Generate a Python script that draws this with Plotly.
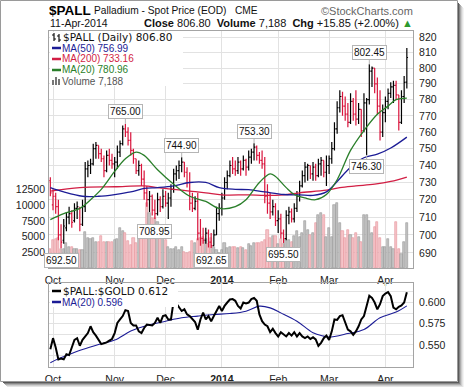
import math
import plotly.graph_objects as go

W, H = 464, 387

# ---------------- data (trading-day index: -1 = 30-Sep-2013 ... 132 = 11-Apr-2014) ----------------
month_idx = [0, 23, 42, 63, 84, 103, 124]
month_lbl = ["Oct", "Nov", "Dec", "<b>2014</b>", "Feb", "Mar", "Apr"]

opens = [731, 717, 722, 716, 700, 697, 704, 710, 712, 708, 715, 715, 706, 716, 738, 740, 741, 750, 752, 747,
         744, 737, 746, 743, 741, 742, 748, 753, 762, 760, 755, 749, 744, 737, 740, 732, 724, 720, 722, 714,
         712, 720, 716, 722, 718, 721, 726, 735, 737, 740, 742, 736, 730, 718, 715, 719, 701, 698, 697, 701,
         696, 694, 700, 712, 715, 721, 730, 734, 740, 738, 737, 742, 738, 743, 739, 745, 748, 751, 746, 743,
         741, 722, 718, 713, 716, 708, 709, 701, 698, 711, 713, 709, 715, 722, 728, 734, 739, 740, 735, 739,
         734, 741, 743, 736, 740, 744, 750, 762, 775, 782, 776, 771, 766, 779, 771, 768, 774, 761, 778, 780,
         798, 800, 790, 776, 760, 772, 779, 784, 788, 789, 783, 766, 782, 791]
highs = [733, 726, 724, 720, 706, 709, 713, 716, 714, 718, 719, 716, 720, 742, 743, 744, 753, 754, 752, 750,
         746, 749, 750, 747, 745, 752, 755, 764, 765, 763, 760, 750, 744, 743, 741, 737, 728, 725, 723, 720,
         724, 722, 726, 725, 724, 729, 738, 740, 743, 744.9, 742, 739, 736, 724, 722, 724, 709, 704, 704, 703,
         701, 703, 716, 718, 724, 733, 737, 743, 745, 743, 745, 743, 746, 744, 749, 750, 753.3, 752, 748, 749,
         745, 729, 724, 720, 718, 714, 712, 703, 714, 716, 715, 718, 725, 731, 737, 742, 741, 740, 742, 741,
         744, 745, 743, 746, 746, 754, 766, 779, 786, 785, 782, 778, 784, 781, 786, 778, 774, 784, 781, 802.45,
         801, 800, 794, 786, 777, 782, 787, 791, 792, 792, 783, 786, 795, 813]
lows = [722, 714, 712, 697, 692.5, 695, 702, 706, 704, 707, 709, 702, 705, 713, 733, 735, 740, 744, 744, 742,
        733, 736, 740, 738, 733, 738, 745, 752, 757, 752, 746, 741, 735, 734, 728, 720, 716, 713, 711, 708.95,
        711, 713, 715, 716, 709, 716, 724, 731, 732, 736, 733, 727, 714, 713, 714, 697, 694, 695, 695, 693,
        692.65, 694, 700, 708, 711, 720, 726, 733, 735, 734, 735, 734, 737, 734, 737, 741, 743, 743, 741, 738,
        718, 712, 709, 711, 705, 701, 698, 695.5, 697, 706, 707, 707, 713, 719, 727, 730, 731, 732, 731, 731,
        733, 734, 733, 728, 735, 741, 749, 759, 772, 770, 767, 763, 765, 767, 764, 765, 757, 760, 746.3, 777,
        788, 784, 771, 755, 757, 766, 774, 781, 778, 780, 761, 765, 778, 787]
closes = [724, 722, 716, 700, 696, 705, 710, 712, 707, 715, 716, 706, 716, 738, 740, 741, 750, 752, 747, 744,
          737, 746, 743, 741, 742, 748, 753, 762, 760, 755, 749, 744, 737, 740, 732, 724, 720, 722, 714, 712,
          720, 716, 722, 718, 721, 726, 735, 737, 740, 742, 736, 730, 718, 715, 719, 701, 698, 697, 701, 696,
          694, 700, 712, 715, 721, 730, 734, 740, 738, 737, 742, 738, 743, 739, 745, 748, 751, 746, 743, 741,
          722, 718, 713, 716, 708, 709, 701, 698, 711, 713, 709, 715, 722, 728, 734, 739, 740, 735, 739, 734,
          741, 743, 736, 740, 744, 750, 762, 775, 782, 776, 771, 766, 779, 771, 768, 774, 761, 778, 780, 798,
          800, 790, 776, 760, 772, 779, 784, 788, 789, 783, 766, 782, 790.95, 806.80]
volume = [3000, 4400, 4600, 4700, 3100, 3000, 3900, 3400, 3300, 3100, 3000, 2900, 2800, 5700, 4700, 4600, 4800,
          4200, 4200, 5100, 4200, 4100, 4200, 4100, 4500, 4600, 6300, 5900, 5600, 4300, 3700, 4800, 4000, 6300,
          5600, 4700, 10400, 8800, 7900, 7900, 7300, 5600, 5000, 4500, 3400, 3000, 3100, 3400, 2900, 3400, 2600,
          2400, 2600, 4300, 4000, 4600, 4800, 4900, 4600, 3800, 4800, 3400, 2900, 2400, 2800, 3900, 3200, 3400,
          3300, 3300, 3200, 3400, 3200, 2900, 3800, 3500, 3900, 4000, 4000, 4100, 4400, 6000, 4700, 5100, 5100,
          3800, 4600, 3800, 4600, 4500, 4100, 5100, 5900, 5000, 5600, 7500, 6100, 5300, 5600, 7100, 8500, 8700,
          8500, 5000, 6400, 5000, 10100, 10300, 7200, 5900, 4800, 6100, 5300, 4800, 5500, 5000, 4200, 8500, 8500,
          7500, 5600, 6600, 7300, 4700, 3400, 3400, 4600, 3400, 3000, 7300, 3000, 2200, 4100, 7188]

ma20_idx = [-1, 4, 10, 14, 18, 23, 27, 31, 34, 39, 45, 51, 57, 62, 68, 72, 77, 81, 83, 87, 90, 94, 98, 102, 106,
            111, 116, 121, 125, 128, 132]
ma20_val = [708.6, 712, 715, 720, 726, 736.5, 744, 748, 746, 737.5, 729, 722, 719, 715, 716, 720, 730, 735, 733.5,
            727, 723, 721, 720, 723, 731.6, 749, 761, 771, 776, 780, 780.96]
ma50_idx = [-1, 4, 11, 17, 23, 29, 34, 39, 45, 51, 57, 62, 68, 73, 79, 86, 92, 97, 102, 106, 111, 116, 121, 126, 132]
ma50_val = [727, 724.5, 722, 722, 723, 724.5, 726.5, 727, 728, 730, 730, 727, 726, 725.8, 724.5, 723, 722.8, 722.5,
            724.5, 730.6, 739, 744.6, 746.7, 750.4, 756.99]
ma200_idx = [-1, 10, 23, 34, 39, 45, 51, 57, 63, 73, 79, 86, 92, 102, 107, 113, 120, 126, 132]
ma200_val = [725, 727, 727.5, 728, 727, 726, 725, 724, 722.8, 722.8, 722.5, 722.8, 724, 725.5, 727, 728, 729,
             730.6, 733.16]

ratio = [0.545, 0.558, 0.547, 0.533, 0.534, 0.533, 0.539, 0.538, 0.547, 0.556, 0.558, 0.549, 0.556, 0.560, 0.564,
         0.572, 0.565, 0.561, 0.556, 0.551, 0.552, 0.553, 0.555, 0.557, 0.564, 0.576, 0.580, 0.584, 0.591, 0.590,
         0.576, 0.573, 0.573, 0.566, 0.564, 0.570, 0.574, 0.5735, 0.573, 0.576, 0.582, 0.576, 0.584, 0.585, 0.580,
         0.580, 0.602, 0.599, 0.594, 0.590, 0.592, 0.586, 0.584, 0.580, 0.577, 0.568, 0.580, 0.588, 0.580, 0.584,
         0.578, 0.584, 0.590, 0.596, 0.590, 0.596, 0.600, 0.6035, 0.604, 0.602, 0.596, 0.593, 0.600, 0.599, 0.600,
         0.604, 0.6055, 0.602, 0.586, 0.578, 0.574, 0.572, 0.565, 0.569, 0.564, 0.560, 0.565, 0.562, 0.560, 0.564,
         0.561, 0.565, 0.560, 0.564, 0.560, 0.558, 0.560, 0.557, 0.559, 0.5565, 0.549, 0.5525, 0.558, 0.561, 0.556,
         0.566, 0.580, 0.5795, 0.584, 0.585, 0.576, 0.568, 0.566, 0.562, 0.566, 0.572, 0.580, 0.584, 0.596, 0.608,
         0.6055, 0.600, 0.592, 0.598, 0.6075, 0.6106, 0.6122, 0.6075, 0.594, 0.592, 0.595, 0.5965, 0.600, 0.612]
rma_idx = [-1, 2, 6, 11, 17, 23, 29, 35, 42, 48, 54, 60, 66, 72, 77, 81, 85, 91, 97, 101, 103, 110, 116, 122, 128, 132]
rma_val = [0.529, 0.5336, 0.5387, 0.5446, 0.5505, 0.5557, 0.5663, 0.5729, 0.578, 0.582, 0.584, 0.5858, 0.587,
           0.5898, 0.5957, 0.5937, 0.5878, 0.578, 0.5643, 0.5604, 0.5592, 0.5634, 0.5682, 0.582, 0.5887, 0.596]

label_idx = [27, 48, 75, 118, 3, 38, 59, 86, 117]
label_val = [765.00, 744.90, 753.30, 802.45, 692.50, 708.95, 692.65, 695.50, 746.30]
label_side = ["above", "above", "above", "above", "below", "below", "below", "below", "below"]

price_ticks = list(range(690, 830, 10))
vol_ticks = [2500, 5000, 7500, 10000, 12500]
ratio_ticks = [0.5375, 0.55, 0.5625, 0.575, 0.5875, 0.6, 0.6125]
ratio_tick_lbl = ["", "0.550", "", "0.575", "", "0.600", ""]

# ---------------- styling ----------------
SANS = "Liberation Sans, Arial, Helvetica, sans-serif"
WIDE = "DejaVu Sans, Verdana, sans-serif"
GRID = "#e2e2e2"
FRAME = "#a4a4a4"
RED = "#d9143c"
NAVY = "#1c1c96"
GREEN = "#2a7f2a"
MA200C = "#d21e44"


def fx(px):
    return px / W


def fy(py):
    return 1 - py / H


days = list(range(-1, 133))
n = len(days)
up = []
for k in range(n):
    ref = closes[k - 1] if k > 0 else opens[0]
    up.append(closes[k] >= ref)

fig = go.Figure()

# volume (base axis y, left)
fig.add_trace(go.Bar(
    x=days, y=volume, xaxis="x", yaxis="y", width=0.8,
    marker=dict(color=["#c2c2c2" if u else "#f5c4c8" for u in up],
                line=dict(color=["#969696" if u else "#e6929a" for u in up], width=0.6)),
    hoverinfo="skip"))

# moving averages on price
for ix, vals, col in [(ma200_idx, ma200_val, MA200C), (ma50_idx, ma50_val, NAVY), (ma20_idx, ma20_val, GREEN)]:
    fig.add_trace(go.Scatter(x=ix, y=vals, mode="lines", xaxis="x", yaxis="y2",
                             line=dict(color=col, width=1.3, shape="spline"), hoverinfo="skip"))

# price bars (black = up close, red = down close)
for flag, col in [(True, "#000000"), (False, RED)]:
    ks = [k for k in range(n) if up[k] == flag]
    fig.add_trace(go.Ohlc(
        x=[days[k] for k in ks], open=[opens[k] for k in ks], high=[highs[k] for k in ks],
        low=[lows[k] for k in ks], close=[closes[k] for k in ks], xaxis="x", yaxis="y2",
        increasing=dict(line=dict(color=col, width=1.2)), decreasing=dict(line=dict(color=col, width=1.2)),
        tickwidth=0.45, hoverinfo="skip"))

# ratio panel
fig.add_trace(go.Scatter(x=rma_idx, y=rma_val, mode="lines", xaxis="x2", yaxis="y3",
                         line=dict(color=NAVY, width=1.1, shape="spline"), hoverinfo="skip"))
fig.add_trace(go.Scatter(x=days, y=ratio, mode="lines", xaxis="x2", yaxis="y3",
                         line=dict(color="#000000", width=2), hoverinfo="skip"))

xr = [-1.5, 134.3]
tickfont = dict(family=SANS, size=10.5, color="#222")
xcommon = dict(range=xr, tickvals=month_idx, ticktext=month_lbl, showgrid=True, gridcolor=GRID, gridwidth=1,
               zeroline=False, showline=True, linecolor=FRAME, mirror=True, ticks="", tickfont=tickfont,
               ticklabelstandoff=2, fixedrange=True)

fig.update_layout(
    width=W, height=H, margin=dict(l=0, r=0, t=0, b=0, autoexpand=False),
    paper_bgcolor="white", plot_bgcolor="white", showlegend=False, bargap=0,
    xaxis=dict(domain=[fx(49), fx(413)], anchor="y", rangeslider=dict(visible=False), **xcommon),
    yaxis=dict(domain=[fy(268), fy(31)], anchor="x", side="left", range=[0, 37700], tickvals=vol_ticks,
               ticktext=[str(v) for v in vol_ticks],
               showgrid=False, zeroline=False, showline=False, ticks="", tickfont=tickfont,
               ticklabelstandoff=3, fixedrange=True),
    yaxis2=dict(overlaying="y", anchor="x", side="right", type="log",
                range=[math.log10(681.7), math.log10(824.1)], tickvals=price_ticks,
                ticktext=[str(t) for t in price_ticks], showgrid=True, gridcolor=GRID, zeroline=False,
                showline=True, linecolor=FRAME, mirror=True, ticks="", tickfont=tickfont,
                ticklabelstandoff=3, fixedrange=True),
    xaxis2=dict(domain=[fx(49), fx(413)], anchor="y3", rangeslider=dict(visible=False), **xcommon),
    yaxis3=dict(domain=[fy(367), fy(283)], anchor="x2", side="right", range=[0.524, 0.623],
                tickvals=ratio_ticks, ticktext=ratio_tick_lbl, showgrid=True, gridcolor=GRID, zeroline=False,
                showline=True, linecolor=FRAME, mirror=True, ticks="", tickfont=tickfont,
                ticklabelstandoff=3, fixedrange=True),
)

ann = []


def txt(x, y, s, size=11, color="#111", anchor="left", family=SANS):
    ann.append(dict(xref="paper", yref="paper", x=fx(x), y=fy(y), text=s, showarrow=False,
                    xanchor=anchor, yanchor="middle", font=dict(family=family, size=size, color=color)))


# header
txt(47, 10.5, "<b>$PALL</b>", size=13.5, color="#000")
txt(92, 11, "Palladium - Spot Price (EOD)", size=10.2)
txt(233, 11, "CME", size=10.2)
txt(415, 11, "©StockCharts.com", size=11, color="#666", anchor="right")
txt(48, 23, "11-Apr-2014", size=10.5)
chg = closes[-1] - closes[-2]
pct = chg / closes[-2] * 100
txt(415, 23, f"<b>Close</b> {closes[-1]:.2f}  <b>Volume</b> {volume[-1]:,}  <b>Chg</b> {chg:+.2f} ({pct:+.2f}%) "
             f"<span style='color:#2e9a2e'>▲</span>", size=11, anchor="right")

# main legend
shapes = [
    dict(type="rect", xref="paper", yref="paper", x0=fx(50), x1=fx(183), y0=fy(86), y1=fy(32),
         fillcolor="white", line=dict(width=0), layer="above"),
    dict(type="rect", xref="paper", yref="paper", x0=fx(50), x1=fx(178), y0=fy(307), y1=fy(284),
         fillcolor="white", line=dict(width=0), layer="above"),
]
txt(61, 37, f"$PALL (Daily) {closes[-1]:.2f}", size=10.5, color="#111", family=WIDE)
txt(60, 48, f"MA(50) {ma50_val[-1]:.2f}", size=10, color=NAVY)
txt(60, 59, f"MA(200) {ma200_val[-1]:.2f}", size=10, color=MA200C)
txt(60, 70, f"MA(20) {ma20_val[-1]:.2f}", size=10, color=GREEN)
txt(60, 81, f"Volume {volume[-1]:,}", size=10, color="#555")
for yy, col in [(48, NAVY), (59, MA200C), (70, GREEN)]:
    shapes.append(dict(type="line", xref="paper", yref="paper", x0=fx(52), x1=fx(61), y0=fy(yy), y1=fy(yy),
                       line=dict(color=col, width=2.5), layer="above"))
# OHLC icon
for cx, t0, t1 in [(54, 33, 41), (59, 34, 42)]:
    shapes.append(dict(type="line", xref="paper", yref="paper", x0=fx(cx), x1=fx(cx), y0=fy(t1), y1=fy(t0),
                       line=dict(color="#111", width=1.2), layer="above"))
    shapes.append(dict(type="line", xref="paper", yref="paper", x0=fx(cx - 2), x1=fx(cx), y0=fy(t0 + 2),
                       y1=fy(t0 + 2), line=dict(color="#111", width=1.2), layer="above"))
    shapes.append(dict(type="line", xref="paper", yref="paper", x0=fx(cx), x1=fx(cx + 2), y0=fy(t1 - 2),
                       y1=fy(t1 - 2), line=dict(color="#111", width=1.2), layer="above"))
# volume icon
for bx, bh in [(52, 5), (55, 8), (58, 6)]:
    shapes.append(dict(type="rect", xref="paper", yref="paper", x0=fx(bx), x1=fx(bx + 2), y0=fy(85),
                       y1=fy(85 - bh), fillcolor="#777", line=dict(width=0), layer="above"))

# ratio legend
txt(61, 291, f"$PALL:$GOLD {ratio[-1]:.3f}", size=10.5, color="#111", family=WIDE)
txt(60, 302, f"MA(20) {rma_val[-1]:.3f}", size=10, color=NAVY)
for yy, col in [(291, "#000"), (302, NAVY)]:
    shapes.append(dict(type="line", xref="paper", yref="paper", x0=fx(52), x1=fx(61), y0=fy(yy), y1=fy(yy),
                       line=dict(color=col, width=2.5), layer="above"))

# price labels
for i, v, side in zip(label_idx, label_val, label_side):
    ann.append(dict(xref="x", yref="y2", x=i, y=math.log10(v), text=f"{v:.2f}", showarrow=True,
                    arrowhead=0, arrowwidth=1, arrowcolor="#b5b5b5", ax=0, ay=-12 if side == "above" else 12,
                    bgcolor="white", bordercolor="#b5b5b5", borderwidth=1, borderpad=1,
                    font=dict(family=SANS, size=10, color="#111")))

# outer frame and drop shadow
shapes.append(dict(type="rect", xref="paper", yref="paper", x0=fx(0.5), x1=fx(457.5), y0=fy(381.5), y1=fy(0.5),
                   line=dict(color="#9a9a9a", width=1), layer="above"))
shade = ["#5a5a5a", "#868686", "#adadad", "#cdcdcd", "#e4e4e4", "#f3f3f3"]
for k, c in enumerate(shade):
    shapes.append(dict(type="line", xref="paper", yref="paper", x0=fx(458.5 + k), x1=fx(458.5 + k),
                       y0=fy(3 + k), y1=fy(387), line=dict(color=c, width=1), layer="above"))
    shapes.append(dict(type="line", xref="paper", yref="paper", x0=fx(3 + k), x1=fx(464), y0=fy(382.5 + k),
                       y1=fy(382.5 + k), line=dict(color=c, width=1), layer="above"))

fig.update_layout(annotations=ann, shapes=shapes)
fig.write_html("out.html", config={"displayModeBar": False},
               post_script="document.body.style.margin='0';document.body.style.padding='0';"
                           "document.documentElement.style.overflow='hidden';")
